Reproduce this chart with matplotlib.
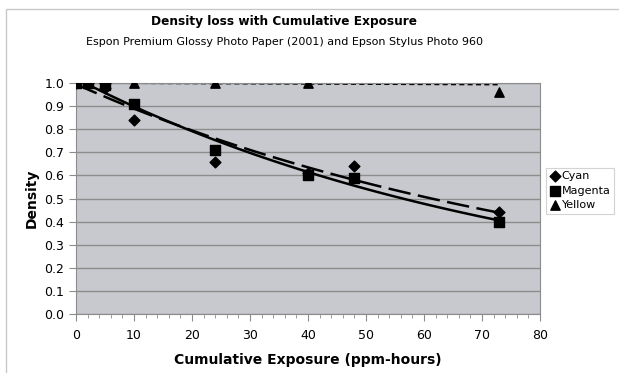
import numpy as np
from matplotlib import pyplot as plt
from matplotlib.patches import Rectangle

# exposure (ppm-hours) and measured density per ink
cyan_x = [0, 2, 5, 5, 10, 24, 40, 48, 73]
cyan_y = [1.00, 1.00, 1.00, 0.98, 0.84, 0.66, 0.61, 0.64, 0.44]
magenta_x = [0, 2, 5, 10, 24, 40, 48, 73]
magenta_y = [1.00, 1.00, 0.99, 0.91, 0.71, 0.60, 0.59, 0.40]
yellow_x = [0, 2, 5, 10, 24, 40, 73]
yellow_y = [1.00, 1.00, 1.00, 1.00, 1.00, 1.00, 0.96]
# yellow trendline as drawn
yellow_trend_x = [0, 73]
yellow_trend_y = [1.00, 0.993]


def exp_trend(x, y):
    # Excel style exponential trendline
    b, a = np.polyfit(x, np.log(y), 1)
    xs = np.linspace(0, max(x), 100)
    return xs, np.exp(a) * np.exp(b * xs)


fig = plt.figure(dpi=100, figsize=(6.19, 3.73))
ax = fig.add_axes([76 / 619, 1 - 314 / 373, 464 / 619, 231 / 373])
ax.set_facecolor('#c8c9ce')

xs, ys = exp_trend(cyan_x, cyan_y)
ax.plot(xs, ys, color='black', lw=1.8, dashes=(9, 3), zorder=2)
xs, ys = exp_trend(magenta_x, magenta_y)
ax.plot(xs, ys, color='black', lw=1.8, zorder=2)
ax.plot(yellow_trend_x, yellow_trend_y, color='black', lw=1.2, dashes=(3, 2), zorder=2)

ax.scatter(cyan_x, cyan_y, marker='D', s=30, color='black', label='Cyan', zorder=3)
ax.scatter(magenta_x, magenta_y, marker='s', s=45, color='black', label='Magenta', zorder=3)
ax.scatter(yellow_x, yellow_y, marker='^', s=45, color='black', label='Yellow', zorder=3)

ax.set_xlim(0, 80)
ax.set_ylim(0, 1.0)
ax.set_xticks(np.arange(0, 81, 10))
ax.set_xticks(np.arange(0, 81, 2), minor=True)
ax.set_yticks(np.arange(0, 1.01, 0.1))
ax.set_yticklabels(['%.1f' % v for v in np.arange(0, 1.01, 0.1)])
ax.yaxis.grid(True, color='#8c8c8c', lw=1)
ax.set_axisbelow(True)
for s in ax.spines.values():
    s.set_color('#8c8c8c')
ax.tick_params(axis='both', which='both', colors='#8c8c8c', labelcolor='black',
               labelsize=9, direction='out')
ax.tick_params(axis='x', which='major', length=5, pad=6)
ax.tick_params(axis='x', which='minor', length=3)
ax.tick_params(axis='y', length=5)

ax.set_xlabel('Cumulative Exposure (ppm-hours)', fontsize=10, fontweight='bold', labelpad=8)
ax.set_ylabel('Density', fontsize=10, fontweight='bold', labelpad=4)

fig.text(284 / 619, 1 - 21 / 373, 'Density loss with Cumulative Exposure', ha='center', va='center',
         fontsize=8.7, fontweight='bold')
fig.text(284 / 619, 1 - 42 / 373, 'Espon Premium Glossy Photo Paper (2001) and Epson Stylus Photo 960',
         ha='center', va='center', fontsize=8)

leg = ax.legend(loc='upper left', bbox_to_anchor=(546 / 619, 1 - 168 / 373),
                bbox_transform=fig.transFigure, fontsize=8, frameon=True, fancybox=False,
                handletextpad=0.1, handlelength=1.0, borderpad=0.3, labelspacing=0.4,
                borderaxespad=0)
leg.get_frame().set_edgecolor('#c8c8c8')
leg.get_frame().set_linewidth(0.8)

fig.patches.append(Rectangle((6 / 619, -0.05), 1.1, 1 - 9 / 373 + 0.05, transform=fig.transFigure,
                             fill=False, edgecolor='#c8c8c8', lw=1))

fig.savefig('out.png')
